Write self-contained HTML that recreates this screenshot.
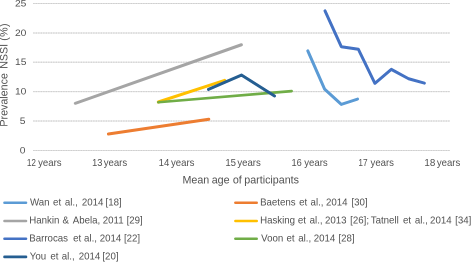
<!DOCTYPE html>
<html><head><meta charset="utf-8"><title>chart</title>
<style>
html,body{margin:0;padding:0;background:#fff;}
body{width:471px;height:262px;overflow:hidden;position:relative;}
svg{position:absolute;left:0;top:0;will-change:transform;overflow:visible;}
svg.x2{transform-origin:0 0;transform:scale(0.5);}
text{font-family:"Liberation Sans",sans-serif;fill:#505050;}
polyline{fill:none;stroke-linecap:round;stroke-linejoin:round;}
.sw{stroke-linecap:round;}
</style></head><body>
<svg width="471" height="262" viewBox="0 0 471 262">
<line x1="33.2" x2="449.9" y1="150.5" y2="150.5" stroke="#dfdfdf" stroke-width="1"/>
<line x1="33.2" x2="449.9" y1="150.5" y2="150.5" stroke="#cecece" stroke-width="1" stroke-dasharray="1.3 1.2"/>
<line x1="33.2" x2="449.9" y1="121.0" y2="121.0" stroke="#dfdfdf" stroke-width="1"/>
<line x1="33.2" x2="449.9" y1="121.0" y2="121.0" stroke="#cecece" stroke-width="1" stroke-dasharray="1.3 1.2"/>
<line x1="33.2" x2="449.9" y1="91.65" y2="91.65" stroke="#dfdfdf" stroke-width="1"/>
<line x1="33.2" x2="449.9" y1="91.65" y2="91.65" stroke="#cecece" stroke-width="1" stroke-dasharray="1.3 1.2"/>
<line x1="33.2" x2="449.9" y1="62.2" y2="62.2" stroke="#dfdfdf" stroke-width="1"/>
<line x1="33.2" x2="449.9" y1="62.2" y2="62.2" stroke="#cecece" stroke-width="1" stroke-dasharray="1.3 1.2"/>
<line x1="33.2" x2="449.9" y1="33.0" y2="33.0" stroke="#dfdfdf" stroke-width="1"/>
<line x1="33.2" x2="449.9" y1="33.0" y2="33.0" stroke="#cecece" stroke-width="1" stroke-dasharray="1.3 1.2"/>
<line x1="33.2" x2="449.9" y1="3.5" y2="3.5" stroke="#dfdfdf" stroke-width="1"/>
<line x1="33.2" x2="449.9" y1="3.5" y2="3.5" stroke="#cecece" stroke-width="1" stroke-dasharray="1.3 1.2"/>
<polyline points="307.80,50.86 324.60,89.20 341.30,104.40 357.53,99.06" stroke="#5B9BD5" stroke-width="3.0"/>
<polyline points="108.39,133.93 208.81,119.27" stroke="#ED7D31" stroke-width="3.0"/>
<polyline points="75.27,103.33 241.43,44.77" stroke="#A5A5A5" stroke-width="3.0"/>
<polyline points="158.28,102.04 224.62,80.36" stroke="#FFC000" stroke-width="3.0"/>
<polyline points="325.01,10.86 341.30,46.70 358.40,49.30 374.90,83.30 391.30,69.40 408.60,78.80 424.42,83.17" stroke="#4472C4" stroke-width="3.0"/>
<polyline points="158.30,102.26 291.60,91.14" stroke="#70AD47" stroke-width="2.7"/>
<polyline points="208.46,89.40 241.40,75.10 274.58,95.93" stroke="#255E91" stroke-width="3.0"/>
<line class="sw" x1="4.5" x2="26.0" y1="202.7" y2="202.7" stroke="#5B9BD5" stroke-width="2.6"/>
<line class="sw" x1="4.5" x2="26.0" y1="221.0" y2="221.0" stroke="#A5A5A5" stroke-width="2.6"/>
<line class="sw" x1="4.5" x2="26.0" y1="238.8" y2="238.8" stroke="#4472C4" stroke-width="2.6"/>
<line class="sw" x1="4.5" x2="26.0" y1="256.9" y2="256.9" stroke="#255E91" stroke-width="2.6"/>
<line class="sw" x1="235.4" x2="256.7" y1="202.7" y2="202.7" stroke="#ED7D31" stroke-width="2.6"/>
<line class="sw" x1="235.4" x2="256.7" y1="221.0" y2="221.0" stroke="#FFC000" stroke-width="2.6"/>
<line class="sw" x1="235.4" x2="256.7" y1="238.8" y2="238.8" stroke="#70AD47" stroke-width="2.6"/>
</svg>
<svg class="x2" width="942" height="524" viewBox="0 0 471 262">
<text font-size="10.1" y="205.5" transform="scale(0.96,1)"><tspan x="31.20">Wan</tspan> <tspan x="55.27">et</tspan> <tspan x="67.56">al.,</tspan> <tspan x="85.28">2014</tspan> <tspan x="109.97">[18]</tspan></text>
<text font-size="10.1" y="223.5" transform="scale(0.96,1)"><tspan x="30.49">Hankin</tspan> <tspan x="65.06">&amp;</tspan> <tspan x="75.78">Abela,</tspan> <tspan x="107.05">2011</tspan> <tspan x="131.85">[29]</tspan></text>
<text font-size="10.1" y="241.5" transform="scale(0.96,1)"><tspan x="30.49">Barrocas</tspan> <tspan x="76.21">et</tspan> <tspan x="87.56">al.,</tspan> <tspan x="103.92">2014</tspan> <tspan x="129.14">[22]</tspan></text>
<text font-size="10.1" y="259.5" transform="scale(0.96,1)"><tspan x="31.00">You</tspan> <tspan x="52.46">et</tspan> <tspan x="64.34">al.,</tspan> <tspan x="82.05">2014</tspan> <tspan x="106.64">[20]</tspan></text>
<text font-size="10.1" y="205.5" transform="scale(0.96,1)"><tspan x="270.91">Baetens</tspan> <tspan x="311.63">et</tspan> <tspan x="323.50">al.,</tspan> <tspan x="339.55">2014</tspan> <tspan x="366.12">[30]</tspan></text>
<text font-size="10.1" y="223.5" transform="scale(0.96,1)"><tspan x="270.91">Hasking</tspan> <tspan x="310.27">et</tspan> <tspan x="322.56">al.,</tspan> <tspan x="338.51">2013</tspan> <tspan x="364.76">[26];</tspan> <tspan x="386.20">Tatnell</tspan> <tspan x="419.75">et</tspan> <tspan x="432.15">al.,</tspan> <tspan x="447.98">2014</tspan> <tspan x="474.14">[34]</tspan></text>
<text font-size="10.1" y="241.5" transform="scale(0.96,1)"><tspan x="272.03">Voon</tspan> <tspan x="298.40">et</tspan> <tspan x="310.69">al.,</tspan> <tspan x="326.84">2014</tspan> <tspan x="352.57">[28]</tspan></text>
<text font-size="9.75" y="166.0" transform="scale(0.985,1)"><tspan x="27.29" textLength="9.22" lengthAdjust="spacingAndGlyphs">12</tspan> <tspan x="38.73">years</tspan></text>
<text font-size="9.75" y="166.0" transform="scale(0.985,1)"><tspan x="93.53" textLength="10.41" lengthAdjust="spacingAndGlyphs">13</tspan> <tspan x="105.28">years</tspan></text>
<text font-size="9.75" y="166.0" transform="scale(0.985,1)"><tspan x="161.05">14</tspan> <tspan x="173.60">years</tspan></text>
<text font-size="9.75" y="166.0" transform="scale(0.985,1)"><tspan x="228.76">15</tspan> <tspan x="240.96">years</tspan></text>
<text font-size="9.75" y="166.0" transform="scale(0.985,1)"><tspan x="295.97" textLength="10.41" lengthAdjust="spacingAndGlyphs">16</tspan> <tspan x="308.88">years</tspan></text>
<text font-size="9.75" y="166.0" transform="scale(0.985,1)"><tspan x="363.84" textLength="9.33" lengthAdjust="spacingAndGlyphs">17</tspan> <tspan x="376.19">years</tspan></text>
<text font-size="9.75" y="166.0" transform="scale(0.985,1)"><tspan x="430.90" textLength="11.06" lengthAdjust="spacingAndGlyphs">18</tspan> <tspan x="443.50">years</tspan></text>
<text font-size="10.7" y="183.5"><tspan x="182.49">Mean</tspan> <tspan x="211.72">age</tspan> <tspan x="232.82">of</tspan> <tspan x="244.30">participants</tspan></text>
<text font-size="9.5" y="153.5" transform="scale(1.08,1)"><tspan x="18.30">0</tspan></text>
<text font-size="9.5" y="124.0" transform="scale(1.08,1)"><tspan x="18.30">5</tspan></text>
<text font-size="9.5" y="94.5" transform="scale(1.08,1)"><tspan x="13.86">10</tspan></text>
<text font-size="9.5" y="65.0" transform="scale(1.08,1)"><tspan x="13.91">15</tspan></text>
<text font-size="9.5" y="36.0" transform="scale(1.08,1)"><tspan x="13.86">20</tspan></text>
<text font-size="9.5" y="6.5" transform="scale(1.08,1)"><tspan x="13.86">25</tspan></text>
<text font-size="10.7" transform="translate(7.5,0) rotate(-90)" y="0"><tspan x="-126.61">Prevalence</tspan> <tspan x="-68.81">NSSI</tspan> <tspan x="-40.79" letter-spacing="0.35">(%)</tspan></text>
</svg>
</body></html>
